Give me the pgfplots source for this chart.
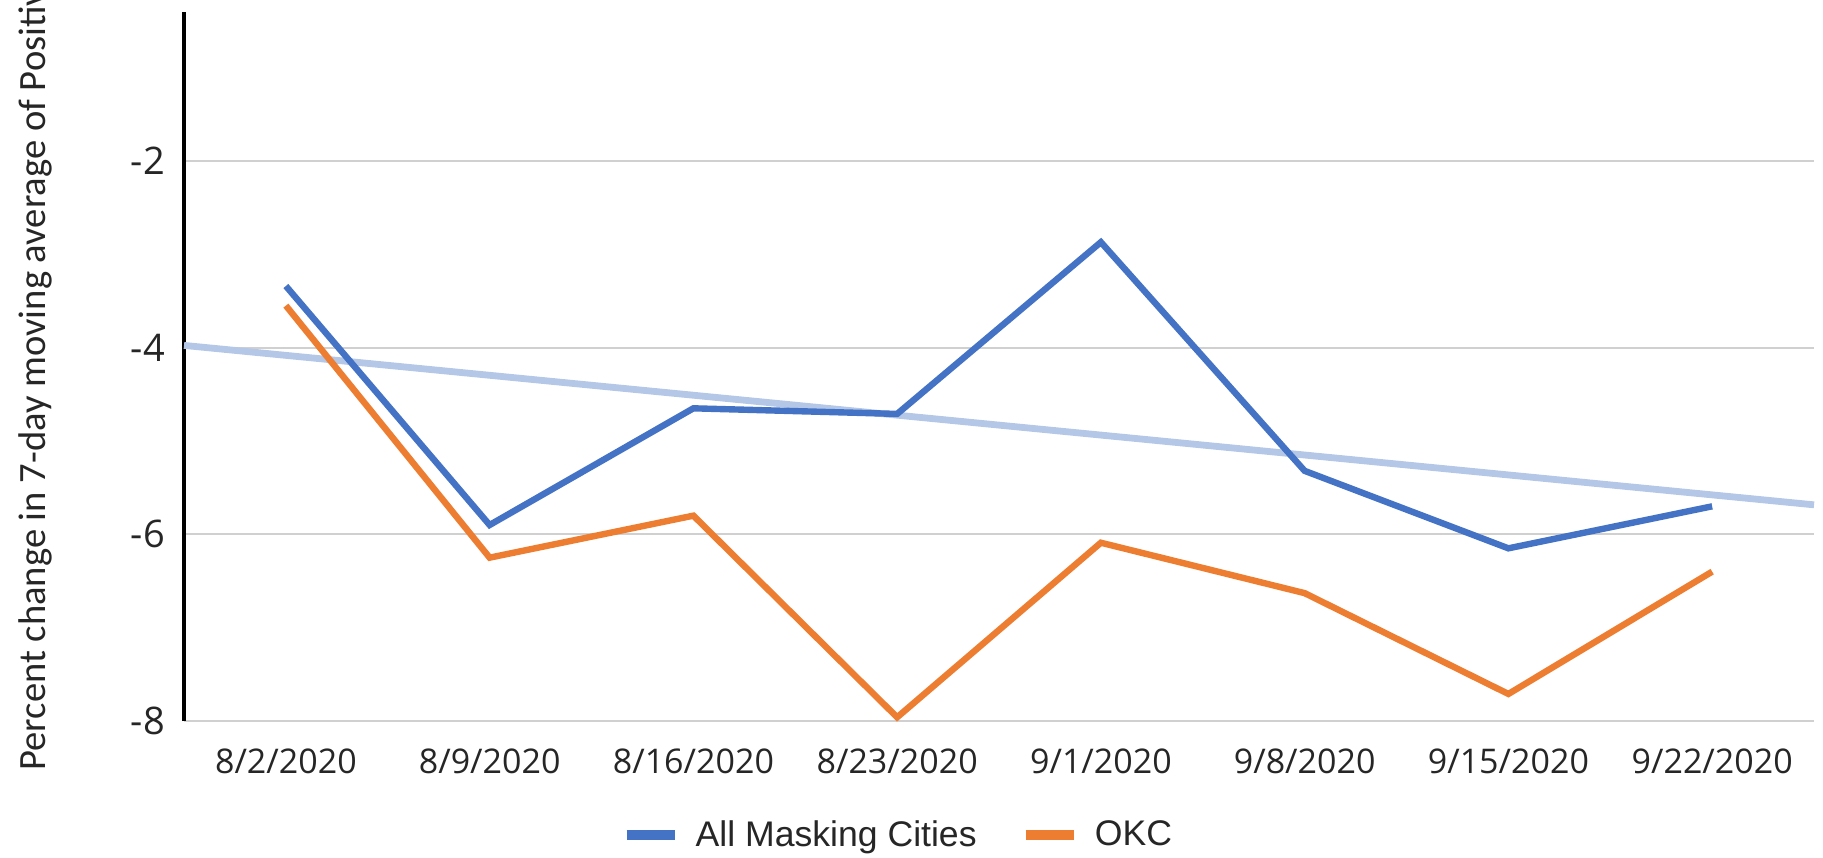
\documentclass[border=0pt]{standalone}
\usepackage{fontspec}
\setmainfont{Open Sans}
\newfontfamily\labelfont{Carlito}
\newfontfamily\legfont{Liberation Sans}
\usepackage{pgfplots}
\pgfplotsset{compat=1.18}
\definecolor{cblue}{RGB}{68,114,196}
\definecolor{corange}{RGB}{237,125,49}
\definecolor{ctrend}{RGB}{180,199,231}
\definecolor{cgrid}{RGB}{208,208,208}
\begin{document}
\begin{tikzpicture}
\begin{axis}[
  scale only axis,
  width=815pt, height=354.7pt,
  xmin=-0.5, xmax=7.5,
  ymin=-8, ymax=-0.4,
  xtick={0,1,2,3,4,5,6,7},
  xticklabels={8/2/2020,8/9/2020,8/16/2020,8/23/2020,9/1/2020,9/8/2020,9/15/2020,9/22/2020},
  ytick={-8,-6,-4,-2},
  yticklabels={-8,-6,-4,-2},
  /pgf/number format/assume math mode=true,
  ymajorgrids,
  grid style={cgrid, line width=1.1pt},
  major tick length=0pt,
  axis x line=bottom,
  axis y line=left,
  x axis line style={draw=none},
  y axis line style={black, line width=1.75pt, -},
  tick label style={font=\fontsize{17}{20}\selectfont, text=black!85},
  xticklabel style={anchor=center, yshift=-20pt},
  yticklabel style={xshift=-6pt, font=\fontsize{19}{22}\selectfont},
  legend style={at={(axis description cs:0.4385,-0.1607)}, anchor=center, draw=none,
    font=\legfont\fontsize{17.8}{20}\selectfont, text=black!85},
  legend columns=2,
  legend image code/.code={\draw[line width=5pt, line cap=butt] (0pt,0pt) -- (24pt,0pt); \path (31pt,0pt);},
  /tikz/every even column/.append style={column sep=20pt},
  clip=false,
]
\addplot[ctrend, line width=3.4pt, forget plot] coordinates {(-0.5,-3.976) (7.5,-5.684)};
\addplot[cblue, line width=3.2pt] coordinates {
  (0,-3.34) (1,-5.90) (2,-4.65) (3,-4.71) (4,-2.87) (5,-5.32) (6,-6.15) (7,-5.70)};
\addlegendentry{All Masking Cities}
\addplot[corange, line width=3.2pt] coordinates {
  (0,-3.55) (1,-6.25) (2,-5.80) (3,-7.96) (4,-6.09) (5,-6.63) (6,-7.71) (7,-6.40)};
\addlegendentry{OKC}
\end{axis}
\node[rotate=90, anchor=west, font=\labelfont\fontsize{19.3}{22}\selectfont, text=black!85, inner sep=0pt]
  at ([xshift=-74.5pt, yshift=-25pt]current axis.south west)
  {Percent change in 7-day moving average of Positivity Rate};
\pgfresetboundingbox
\path[use as bounding box] ([xshift=-92pt, yshift=-68pt]current axis.south west) rectangle ([xshift=4.5pt, yshift=5.8pt]current axis.north east);
\end{tikzpicture}
\end{document}
